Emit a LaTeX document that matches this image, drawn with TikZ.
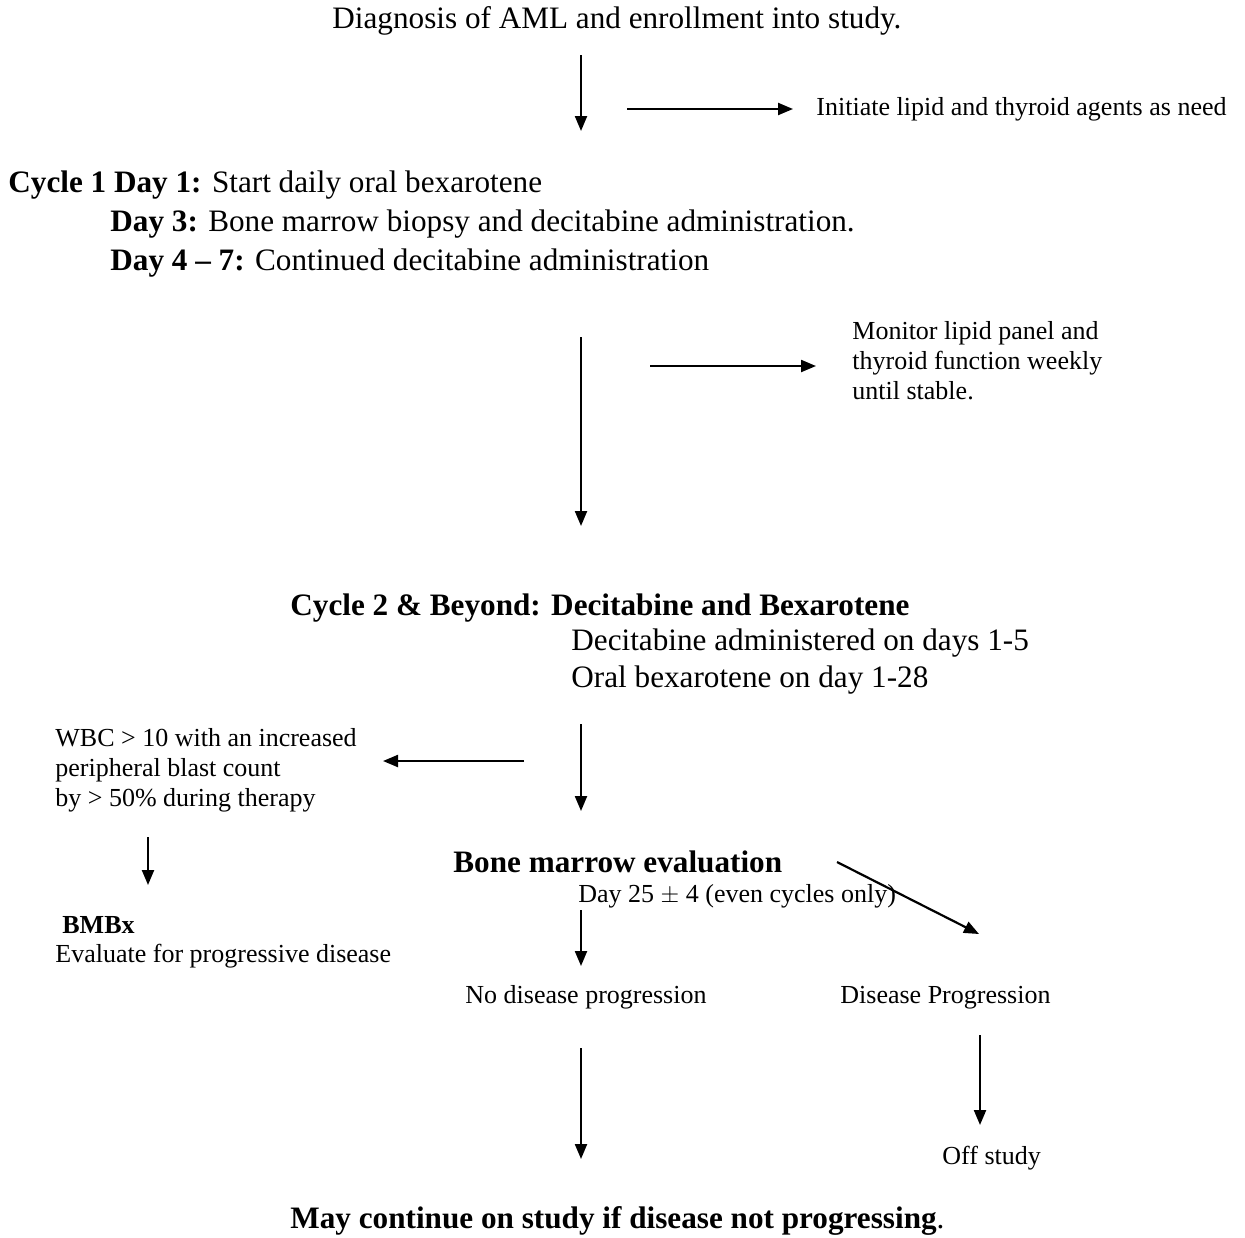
\documentclass[tikz,border=0pt]{standalone}
\usepackage{fontspec}
\setmainfont{Liberation Serif}
\usetikzlibrary{arrows.meta}
\begin{document}
\begin{tikzpicture}[x=0.5pt,y=-0.5pt,
    big/.style={anchor=base west,inner sep=0pt,font=\fontsize{15.6}{19.5}\selectfont},
    small/.style={anchor=base west,inner sep=0pt,align=left,font=\fontsize{13}{15}\selectfont},
    arr/.style={-{Triangle[length=7.5pt,width=6pt]},line width=1.1pt}]
  \useasboundingbox (0,0) rectangle (1245,1237);
  % texts
  \node[big] (diag) at (332,28) {Diagnosis of AML and enrollment into study.};
  \node[small] (init) at (816,115) {Initiate lipid and thyroid agents as need};
  \node[big] (cycA) at (8,192) {\textbf{Cycle 1 Day 1:} Start daily oral bexarotene};
  \node[big] (dayC) at (110,231) {\textbf{Day 3:} Bone marrow biopsy and decitabine administration.};
  \node[big] (dayD) at (110,270) {\textbf{Day 4 -- 7:} Continued decitabine administration};
  \node[small] (monitor) at (852,399) {Monitor lipid panel and\\thyroid function weekly\\until stable.};
  \node[big] (cycB) at (290,615) {\textbf{Cycle 2 \& Beyond: Decitabine and Bexarotene}};
  \node[big] (decit) at (571,650) {Decitabine administered on days 1-5};
  \node[big] (oral) at (571,687) {Oral bexarotene on day 1-28};
  \node[small] (wbc) at (55,806) {WBC > 10 with an increased\\peripheral blast count\\by > 50\% during therapy};
  \node[small] (bmbx) at (62,933) {\textbf{BMBx}};
  \node[small] (evalpd) at (55,962) {Evaluate for progressive disease};
  \node[big] (bme) at (453,872) {\textbf{Bone marrow evaluation}};
  \node[small] (dayE) at (578,902) {Day 25 $\pm$ 4 (even cycles only)};
  \node[small] (nodp) at (465,1003) {No disease progression};
  \node[small] (dp) at (840,1003) {Disease Progression};
  \node[small] (offst) at (942,1164) {Off study};
  \node[big] (mayc) at (290,1228) {\textbf{May continue on study if disease not progressing}.};
  % arrow ends
  \coordinate (a1) at (581,55);   \coordinate (b1) at (581,131);
  \coordinate (a2) at (627,109);  \coordinate (b2) at (793,109);
  \coordinate (a3) at (581,337);  \coordinate (b3) at (581,526);
  \coordinate (a4) at (650,366);  \coordinate (b4) at (816,366);
  \coordinate (a5) at (581,724);  \coordinate (b5) at (581,811);
  \coordinate (a6) at (524,761);  \coordinate (b6) at (383,761);
  \coordinate (a7) at (148,837);  \coordinate (b7) at (148,885);
  \coordinate (a8) at (837,862);  \coordinate (b8) at (979,934);
  \coordinate (a9) at (581,910);  \coordinate (b9) at (581,966);
  \coordinate (a10) at (581,1048); \coordinate (b10) at (581,1159);
  \coordinate (a11) at (980,1035); \coordinate (b11) at (980,1125);
  \begin{scope}[arr]
    \foreach \i in {1,...,11}
      \draw (a\i) -- (b\i);
  \end{scope}
\end{tikzpicture}
\end{document}
